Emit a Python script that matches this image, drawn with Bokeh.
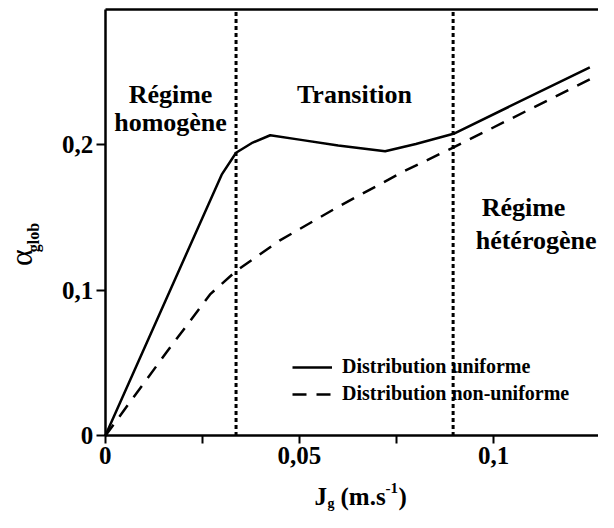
import math
from bokeh.plotting import figure
from bokeh.models import (Range1d, FixedTicker, Label, Legend, LegendItem,
                          LinearAxis)
from bokeh.embed import file_html
from bokeh.resources import INLINE

# ---- data ----
jg_uniform = [0, 0.030, 0.0337, 0.038, 0.0425, 0.050, 0.060, 0.0721, 0.080, 0.0897, 0.1248]
alpha_uniform = [0, 0.179, 0.194, 0.201, 0.206, 0.203, 0.199, 0.195, 0.200, 0.207, 0.2525]

jg_nonuniform = [0, 0.0157, 0.027, 0.0337, 0.045, 0.060, 0.0767, 0.0892, 0.1253]
alpha_nonuniform = [0, 0.057, 0.097, 0.113, 0.134, 0.157, 0.181, 0.197, 0.245]

regime_bounds = [0.0337, 0.0896]

x_ticks = [0, 0.05, 0.1]
x_minor = [0.025, 0.075]
x_tick_labels = {0: "0", 0.05: "0,05", 0.1: "0,1"}
y_ticks = [0, 0.1, 0.2]
y_tick_labels = {0: "0", 0.1: "0,1", 0.2: "0,2"}

series_labels = ["Distribution uniforme", "Distribution non-uniforme"]

# axis extents (data) and full canvas ranges (room for the axis texts)
X_END = 0.127
Y_TOP = 0.292
W, H = 598, 512
FONT = "Liberation Serif"

p = figure(width=W, height=H, output_backend="svg", toolbar_location=None,
           x_range=Range1d(-0.02696, 0.12704), y_range=Range1d(-0.0524, 0.2983),
           x_axis_location=None, y_axis_location=None,
           min_border_left=0, min_border_right=0, min_border_top=0,
           min_border_bottom=0)
p.grid.visible = False
p.outline_line_color = None
p.background_fill_color = "white"
p.border_fill_color = "white"


def style_axis(ax, tick_len):
    ax.axis_line_width = 2.5
    ax.axis_line_color = "black"
    ax.major_tick_line_width = 2
    ax.minor_tick_line_width = 2
    ax.major_tick_in = 0
    ax.major_tick_out = tick_len
    ax.minor_tick_in = 0
    ax.minor_tick_out = tick_len
    ax.major_label_text_font = FONT
    ax.major_label_text_font_style = "bold"
    ax.major_label_text_font_size = "25px"
    ax.major_label_text_color = "black"
    ax.major_label_standoff = 3


xaxis = LinearAxis(fixed_location=0, bounds=(0, X_END),
                   ticker=FixedTicker(ticks=x_ticks, minor_ticks=x_minor),
                   major_label_overrides=x_tick_labels)
style_axis(xaxis, 8)
p.add_layout(xaxis, "below")

yaxis = LinearAxis(fixed_location=0, bounds=(0, Y_TOP),
                   ticker=FixedTicker(ticks=y_ticks, minor_ticks=[]),
                   major_label_overrides=y_tick_labels)
style_axis(yaxis, 9)
p.add_layout(yaxis, "left")

# top frame line
top = LinearAxis(fixed_location=Y_TOP, bounds=(0, X_END),
                 ticker=FixedTicker(ticks=[], minor_ticks=[]),
                 axis_line_width=2.5, axis_line_color="black",
                 major_tick_line_color=None, minor_tick_line_color=None,
                 major_label_text_alpha=0)
p.add_layout(top, "above")

r1 = p.line(jg_uniform, alpha_uniform, line_color="black", line_width=2.5)
r2 = p.line(jg_nonuniform, alpha_nonuniform, line_color="black", line_width=2.5,
            line_dash="14 10")

p.segment(x0=regime_bounds, y0=[0] * len(regime_bounds),
          x1=regime_bounds, y1=[Y_TOP] * len(regime_bounds),
          line_color="black", line_width=3, line_dash="4 3", level="overlay")

legend = Legend(items=[LegendItem(label=series_labels[0], renderers=[r1]),
                       LegendItem(label=series_labels[1], renderers=[r2])],
                location=(292, 107), padding=0, margin=0, spacing=4,
                glyph_width=40, glyph_height=20, label_standoff=10,
                label_text_font=FONT, label_text_font_style="bold",
                label_text_font_size="20px", label_text_color="black",
                border_line_alpha=0, background_fill_alpha=0)
p.add_layout(legend)


def lab(text, x, y, size, align="center", bold=True, angle=0.0, baseline="alphabetic"):
    # x, y in screen px from the canvas' bottom-left corner
    p.add_layout(Label(x=x, y=y, x_units="screen", y_units="screen", text=text,
                       text_font=FONT, text_font_size=f"{size}px",
                       text_font_style="bold" if bold else "normal",
                       text_align=align, text_baseline=baseline, angle=angle,
                       text_color="black"))


# region labels
lab("Régime", 170, 418, 26)
lab("homogène", 170, 390, 26)
lab("Transition", 354, 418, 26)
lab("Régime", 523, 305, 26)
lab("hétérogène", 596, 272, 26, align="right")

# x axis label J_g (m.s^-1)
lab("J", 314, 16, 25, align="left")
lab("g", 327, 9, 14, align="left")
lab("(m.s", 340, 16, 25, align="left")
lab("-1", 385, 25, 15, align="left")
lab(")", 398, 16, 25, align="left")

# y axis label alpha_glob
lab("α", 20, 255, 32, bold=False, angle=math.pi / 2, baseline="middle")
lab("glob", 33, 275, 16, angle=math.pi / 2, baseline="middle")

open("out.html", "w").write(file_html(p, INLINE))
